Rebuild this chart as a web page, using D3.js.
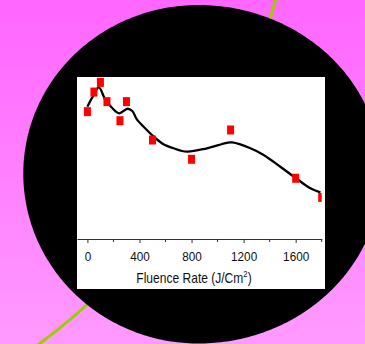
<!DOCTYPE html>
<html>
<head>
<meta charset="utf-8">
<script src="https://cdn.jsdelivr.net/npm/d3@7"></script>
<style>
  html, body { margin: 0; padding: 0; background: #ff80ff; }
  svg { display: block; }
</style>
</head>
<body>
<svg id="chart" width="365" height="344"></svg>
<script>
// Measured points (fluence rate in J/cm², response in relative units)
const fluence = [0, 50, 100, 150, 250, 300, 500, 800, 1100, 1600, 1800];
const response = [78.6, 90.7, 96.7, 84.8, 73.0, 84.8, 61.1, 49.2, 67.3, 37.5, 25.7];

// Smoothed fit through the measurements
const fitFluence = [0, 45, 88, 135, 185, 244, 308, 345, 380, 457, 500, 575, 662, 765, 918, 1072, 1113, 1252, 1354, 1482, 1603, 1713, 1790];
const fitResponse = [81.7, 88.5, 93.6, 86.4, 81.3, 77.6, 80.4, 79.0, 73.8, 67.3, 63.9, 59.0, 56.0, 53.9, 56.0, 59.4, 59.6, 56.0, 51.9, 44.6, 37.5, 31.3, 28.8];

// Axis ticks
const majorTicks = [0, 400, 800, 1200, 1600];
const minorTicks = [200, 600, 1000, 1400, 1800];
const xTitle = "Fluence Rate (J/Cm";

const svg = d3.select("#chart");
const W = 365, H = 344;

// ----- slide backdrop -----
const defs = svg.append("defs");
const grad = defs.append("linearGradient")
  .attr("id", "bg").attr("x1", 0).attr("y1", 0).attr("x2", 0).attr("y2", 1);
grad.append("stop").attr("offset", "0%").attr("stop-color", "#ff66ff");
grad.append("stop").attr("offset", "100%").attr("stop-color", "#ff9aff");
svg.append("rect").attr("width", W).attr("height", H).attr("fill", "url(#bg)");

// thin decorative arc crossing the slide
svg.append("circle")
  .attr("cx", -343).attr("cy", -172).attr("r", 642)
  .attr("fill", "none").attr("stroke", "#9dcc00").attr("stroke-width", 3);

// black oval behind the figure: an ellipse with slightly different radii per quadrant
const oval = { cx: 198.3, cy: 173.5, left: 175, right: 183, top: 168.5, bottom: 170 };
const ovalPts = d3.range(0, 360, 1).map(deg => {
  const a = deg * Math.PI / 180;
  const c = Math.cos(a), s = Math.sin(a);
  const rx = c >= 0 ? oval.right : oval.left;
  const ry = s >= 0 ? oval.bottom : oval.top;
  return [oval.cx + rx * c, oval.cy + ry * s];
});
svg.append("path")
  .attr("d", d3.line().curve(d3.curveLinearClosed)(ovalPts))
  .attr("fill", "#000");

// ----- figure panel -----
const panel = { x: 77, y: 77, w: 248, h: 212 };
svg.append("rect")
  .attr("x", panel.x).attr("y", panel.y)
  .attr("width", panel.w).attr("height", panel.h)
  .attr("fill", "#fff");

const x = d3.scaleLinear().domain([-80, 1800]).range([77, 321.7]);
const y = d3.scaleLinear().domain([0, 100]).range([239, 77]);

defs.append("clipPath").attr("id", "plot")
  .append("rect")
  .attr("x", x.range()[0]).attr("y", y.range()[1])
  .attr("width", x.range()[1] - x.range()[0])
  .attr("height", y.range()[0] - y.range()[1]);

const plot = svg.append("g").attr("clip-path", "url(#plot)");

// fitted curve
plot.append("path")
  .datum(fitFluence.map((f, i) => [f, fitResponse[i]]))
  .attr("d", d3.line()
    .x(d => x(d[0])).y(d => y(d[1]))
    .curve(d3.curveCatmullRom.alpha(0.5)))
  .attr("fill", "none")
  .attr("stroke", "#000")
  .attr("stroke-width", 2.3);

// measured points
const sw = 7, sh = 9;
plot.selectAll("rect.pt")
  .data(fluence.map((f, i) => [f, response[i]]))
  .join("rect")
  .attr("class", "pt")
  .attr("x", d => x(d[0]) - sw / 2)
  .attr("y", d => y(d[1]) - sh / 2)
  .attr("width", sw).attr("height", sh)
  .attr("fill", "#ff0000");

// ----- x axis -----
const axisY = y(0);
const gx = svg.append("g").attr("transform", `translate(0,${axisY})`);
gx.call(d3.axisBottom(x).tickValues(majorTicks).tickSize(4).tickSizeOuter(0).tickFormat(d3.format("d")));
gx.select(".domain").attr("stroke", "#333").attr("stroke-width", 1);
gx.selectAll(".tick line").attr("stroke", "#333");
gx.selectAll(".tick text")
  .attr("y", 22.5).attr("dy", 0)
  .attr("fill", "#111")
  .attr("font-family", "'Liberation Sans', Arial, sans-serif")
  .attr("font-size", 13.5)
  .attr("transform", "scale(0.87,1)");

gx.selectAll("line.minor")
  .data(minorTicks)
  .join("line")
  .attr("class", "minor")
  .attr("x1", d => x(d)).attr("x2", d => x(d))
  .attr("y1", 0).attr("y2", 3)
  .attr("stroke", "#333");

// axis title with superscript
const title = svg.append("g")
  .attr("transform", `translate(194,283.3) scale(0.86,1)`)
  .append("text")
  .attr("text-anchor", "middle")
  .attr("fill", "#111")
  .attr("font-family", "'Liberation Sans', Arial, sans-serif")
  .attr("font-size", 14);
title.append("tspan").text(xTitle);
title.append("tspan").attr("dy", -6).attr("font-size", 9).text("2");
title.append("tspan").attr("dy", 6).text(")");
</script>
</body>
</html>
